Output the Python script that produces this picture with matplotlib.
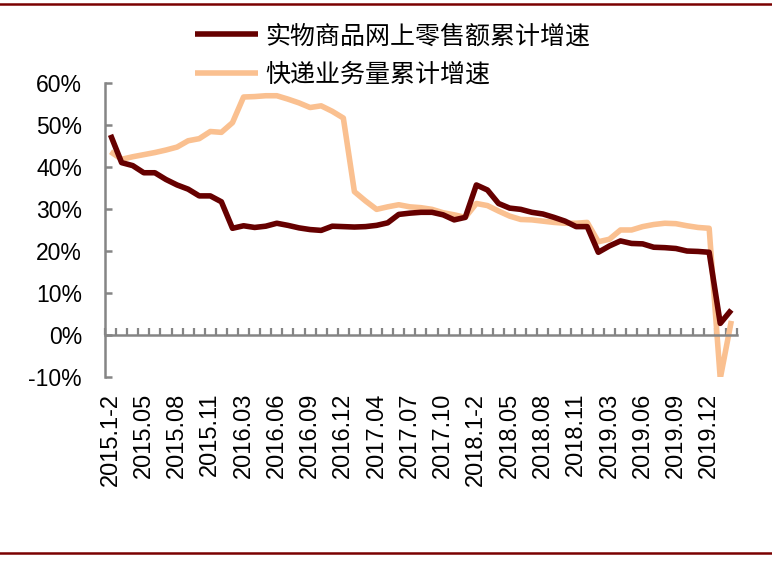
import numpy as np
import matplotlib
matplotlib.use('Agg')
import matplotlib.pyplot as plt

plt.rcParams['font.family'] = ['Liberation Sans', 'Noto Sans CJK SC', 'DejaVu Sans']

# month labels: Jan-Feb are merged into one point every year
months = []
for yr in range(2015, 2021):
    months.append(f'{yr}.1-2')
    last = 3 if yr == 2020 else 12
    for m in range(3, last + 1):
        months.append(f'{yr}.{m:02d}')

# 实物商品网上零售额累计增速 (%)
online_retail = [47.6, 41.0, 40.3, 38.6, 38.6, 37.0, 35.7, 34.7, 33.1, 33.1, 31.7,
                 25.4, 26.0, 25.6, 25.9, 26.6, 26.1, 25.5, 25.1, 24.9, 25.9, 25.8,
                 25.7, 25.8, 26.1, 26.7, 28.7, 29.0, 29.2, 29.2, 28.6, 27.4, 28.0,
                 35.7, 34.5, 31.3, 30.2, 29.9, 29.2, 28.8, 28.0, 27.1, 25.8, 25.8,
                 19.7, 21.2, 22.4, 21.8, 21.7, 20.9, 20.8, 20.6, 20.0, 19.9, 19.7,
                 2.8, 6.0]

# 快递业务量累计增速 (%)
express = [43.6, 41.8, 42.4, 42.9, 43.4, 44.0, 44.7, 46.2, 46.7, 48.4, 48.2,
           50.5, 56.6, 56.7, 56.9, 56.9, 56.1, 55.2, 54.1, 54.5, 53.2, 51.6,
           34.1, 31.9, 29.9, 30.5, 31.0, 30.5, 30.3, 29.9, 29.1, 28.6, 28.0,
           31.3, 30.8, 29.5, 28.3, 27.5, 27.4, 27.1, 26.8, 26.6, 26.6, 26.8,
           22.2, 22.8, 25.0, 25.0, 25.8, 26.3, 26.6, 26.5, 26.0, 25.6, 25.4,
           -10.3, 3.4]

x = np.arange(len(months))
grey = '#858585'

fig = plt.figure(figsize=(7.72, 5.61), dpi=100)
ax = fig.add_axes([0.136, 0.3275, 0.8185, 0.5251])

l1, = ax.plot(x, online_retail, color='#660000', lw=4.0,
              solid_capstyle='butt', solid_joinstyle='round',
              label='实物商品网上零售额累计增速', zorder=3)
l2, = ax.plot(x, express, color='#FAC090', lw=4.0,
              solid_capstyle='butt', solid_joinstyle='round',
              label='快递业务量累计增速', zorder=2)

ax.set_xlim(-0.5, len(months) - 0.5)
ax.set_ylim(-10, 60)

# axes: grey left spine, horizontal axis line at 0
for s in ['top', 'right']:
    ax.spines[s].set_visible(False)
ax.spines['left'].set_color(grey)
ax.spines['left'].set_linewidth(1.8)
ax.spines['bottom'].set_position(('data', 0))
ax.spines['bottom'].set_color(grey)
ax.spines['bottom'].set_linewidth(1.8)

yt = np.arange(-10, 61, 10)
ax.set_yticks(yt)
ax.set_yticklabels([f'{v}%' for v in yt])
ax.tick_params(axis='y', direction='in', length=5, width=1.8, color=grey,
               pad=16.5, labelsize=16.5)

ax.set_xticks(x[::3])
ax.set_xticklabels(months[::3], rotation=90, va='top', ha='center')
ax.set_xticks(np.arange(-0.5, len(months), 1), minor=True)
ax.tick_params(axis='x', which='major', length=0, pad=41.5, labelsize=17)
ax.tick_params(axis='x', which='minor', direction='in', length=5, width=1.6,
               color=grey)

fig.legend(handles=[l1, l2], loc='upper left', bbox_to_anchor=(0.2526, 0.957),
           frameon=False, fontsize=18, handlelength=2.5, handletextpad=0.3,
           labelspacing=0.58, borderpad=0, borderaxespad=0)

# dark red rules at top and bottom of the figure
fig.add_artist(plt.Line2D([0, 1], [0.993, 0.993], color='#7A0000', lw=1.8,
                          transform=fig.transFigure))
fig.add_artist(plt.Line2D([0, 1], [0.014, 0.014], color='#7A0000', lw=1.8,
                          transform=fig.transFigure))

fig.savefig('out.png', dpi=100)
